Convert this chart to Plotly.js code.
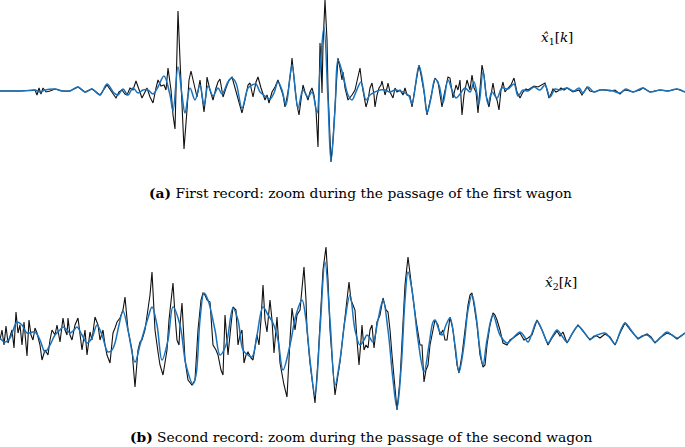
<!DOCTYPE html>
<html><head><meta charset="utf-8">
<script src="https://cdn.plot.ly/plotly-3.0.1.min.js"></script>
<style>html,body{margin:0;padding:0;background:#fff}#chart{width:685px;height:447px}</style>
</head><body><div id="chart"></div>
<script>
// Sample index k, amplitude (arbitrary units)
const topBlack = [[0,0],[20,0],[35,1],[37,-4],[39,3],[41,-3],[43,3],[46,-1],[50,0],[55,2],[62,0],[70,0],[78,4],[85,-1],[92,2],[100,-4],[107,6],[112,-1],[116,-7],[119,-1],[122,1],[125,-3],[127,-4],[130,3],[133,1],[136,10],[139,1],[142,-7],[145,-1],[147,3],[150,-6],[153,-12],[156,3],[158,11],[161,5],[164,6],[166,1],[168,23],[171,1],[173,-24],[175,-38],[177,51],[178,80],[180,31],[182,-19],[184,-58],[187,-19],[189,11],[191,20],[194,6],[197,-6],[200,11],[202,-4],[204,-21],[206,-4],[207,14],[210,1],[213,-9],[216,3],[218,9],[220,12],[222,-1],[223,-6],[226,3],[229,11],[232,14],[235,3],[238,-9],[242,-22],[245,-9],[248,6],[250,8],[253,-6],[256,9],[258,14],[261,3],[263,-4],[265,-9],[267,-4],[269,-12],[272,-1],[275,4],[278,11],[281,1],[283,-4],[285,-16],[288,-1],[291,21],[292,33],[295,3],[297,-14],[299,-24],[301,-9],[303,6],[305,-1],[308,-9],[310,-1],[312,3],[314,-4],[316,-19],[318,-56],[319,-9],[320,48],[321,31],[322,-2],[323,46],[325,91],[327,51],[328,1],[331,-71],[333,-49],[336,1],[338,33],[340,23],[342,11],[343,19],[345,3],[348,-9],[350,-7],[352,-4],[355,1],[357,9],[360,23],[362,6],[364,-4],[366,-16],[368,-9],[370,3],[372,8],[374,-4],[375,-16],[377,-4],[379,3],[381,6],[382,10],[384,1],[385,-4],[387,3],[388,8],[390,-1],[393,-7],[395,3],[397,-1],[400,1],[403,-4],[405,3],[407,-4],[410,-5],[412,-16],[415,3],[417,16],[419,26],[421,16],[424,-1],[427,-24],[429,-14],[431,-4],[433,6],[435,13],[438,9],[440,-4],[442,-16],[444,-4],[446,6],[448,14],[450,13],[453,-7],[456,6],[458,1],[460,11],[462,-24],[464,-4],[467,11],[470,1],[472,16],[474,3],[476,-1],[478,-22],[480,1],[482,26],[484,16],[486,-4],[489,-16],[491,-4],[493,8],[495,-4],[497,-9],[499,-19],[501,1],[503,9],[505,-1],[508,3],[511,6],[514,13],[517,-1],[520,-7],[523,-1],[526,2],[528,1],[531,3],[534,5],[538,4],[542,6],[545,8],[547,1],[549,-7],[551,-3],[553,2],[556,-1],[558,0],[561,3],[564,1],[567,3],[570,1],[573,-1],[576,0],[579,1],[582,-4],[585,1],[587,4],[590,0],[594,-1],[600,1],[605,1],[610,0],[615,1],[620,-3],[623,0],[626,1],[633,-1],[640,1],[643,3],[650,-1],[655,0],[660,1],[668,0],[677,2],[685,-1]];
const topBlue = [[0,0],[20,0],[30,0.5],[35,1],[40,-1],[45,1],[55,2],[62,0],[70,0],[78,4],[85,-1],[92,2],[100,-4],[107,7],[114,-2],[118,-4],[123,2],[128,-4],[133,3],[138,-2],[143,1],[148,1],[153,-3],[158,4],[164,15],[170,-4],[173,-20],[178,24],[182,-4],[185,-22],[190,3],[195,-9],[200,6],[204,-14],[208,5],[213,-5],[218,3],[222,-3],[228,9],[232,13],[236,8],[242,-17],[248,3],[252,6],[256,7],[260,-1],[265,-5],[270,-8],[274,-2],[278,9],[282,1],[286,-14],[292,26],[298,-17],[303,1],[308,-6],[312,-1],[317,-22],[320,21],[324,64],[328,-9],[331,-70],[335,-19],[338,31],[343,16],[348,-4],[352,-9],[356,-1],[361,9],[366,-9],[370,-4],[375,-1],[380,1],[385,1],[390,-1],[395,1],[400,0],[405,-2],[409,-5],[412,-13],[419,25],[424,1],[427,-22],[431,-7],[435,12],[439,6],[443,-12],[448,11],[452,1],[456,-7],[460,-3],[465,3],[470,-1],[474,9],[477,-3],[479,-13],[483,19],[488,-13],[492,-1],[497,-7],[502,3],[508,2],[514,7],[518,-5],[523,1],[528,0],[534,4],[540,1],[545,6],[550,-6],[555,2],[560,1],[567,3],[574,0],[579,3],[583,-2],[588,4],[594,-1],[600,1],[607,1],[613,0],[620,-2],[626,2],[633,-1],[643,3],[650,-1],[660,1],[668,0],[677,2],[685,-1]];
const botBlack = [[0,0],[2,10],[4,-5],[6,14],[8,-3],[10,5],[12,10],[14,-8],[16,28],[18,7],[20,15],[22,-5],[24,18],[27,-16],[29,20],[31,5],[33,0],[35,12],[37,7],[40,-5],[42,-20],[45,-10],[48,-15],[50,0],[52,10],[55,5],[57,15],[60,-2],[63,22],[65,10],[67,5],[68,22],[70,5],[72,0],[75,15],[78,22],[80,5],[82,-10],[85,10],[87,-15],[90,8],[92,0],[95,23],[98,15],[100,0],[103,10],[105,-5],[107,-15],[110,-23],[113,7],[115,12],[117,18],[120,22],[123,30],[125,43],[128,10],[130,0],[132,-10],[135,-47],[138,-10],[140,-2],[142,0],[145,10],[148,30],[150,45],[152,68],[155,10],[158,-12],[160,-25],[163,-35],[165,-20],[167,-10],[169,20],[171,40],[173,57],[175,25],[177,0],[179,-5],[180,15],[182,37],[185,-20],[188,-40],[190,-42],[192,-45],[195,-40],[198,10],[201,40],[203,47],[205,45],[207,40],[210,38],[212,10],[213,-5],[216,-10],[218,-15],[221,-30],[223,-35],[225,25],[228,-15],[231,15],[233,33],[236,30],[238,-5],[240,5],[242,10],[244,-23],[246,-15],[248,-12],[251,-18],[253,-20],[255,-5],[257,5],[259,-5],[261,20],[263,55],[265,20],[267,8],[270,40],[272,20],[274,-13],[277,23],[280,-23],[284,-45],[287,-57],[290,0],[292,32],[295,10],[297,25],[300,30],[302,50],[304,73],[306,40],[307,10],[310,-23],[313,-50],[315,-63],[318,-20],[320,20],[323,70],[326,93],[328,60],[330,10],[333,-35],[335,-55],[338,-35],[340,-22],[343,5],[346,30],[349,58],[351,40],[353,35],[355,30],[357,0],[359,-25],[361,0],[362,15],[364,-10],[366,-5],[368,-8],[370,10],[372,15],[374,-8],[377,18],[380,25],[383,42],[386,30],[388,28],[390,10],[392,-15],[395,-50],[397,-70],[400,-40],[403,20],[405,55],[408,83],[410,65],[412,50],[413,42],[416,20],[418,5],[420,-5],[422,-5],[424,-42],[426,-30],[428,-25],[430,-5],[432,5],[435,20],[438,15],[440,5],[443,10],[445,0],[447,0],[450,23],[453,10],[455,-10],[457,-25],[459,-33],[462,-15],[465,10],[468,35],[470,45],[472,47],[474,35],[477,15],[480,-15],[483,-27],[485,-25],[487,-5],[490,15],[493,27],[495,25],[497,20],[500,10],[503,-3],[507,-5],[510,0],[513,2],[516,4],[520,7],[524,0],[528,2],[532,5],[537,20],[542,10],[548,-5],[552,2],[555,6],[557,9],[560,4],[563,8],[567,-3],[572,6],[578,15],[584,7],[590,0],[594,4],[597,4],[600,2],[605,6],[610,3],[615,-5],[620,7],[625,17],[631,9],[638,1],[643,4],[647,6],[651,3],[655,-3],[661,3],[667,7],[672,5],[677,1],[681,4],[685,7]];
const botBlue = [[0,2],[5,-2],[10,2],[17,18],[22,15],[27,7],[35,8],[40,0],[45,-12],[50,-5],[55,5],[60,10],[63,13],[67,10],[70,7],[74,10],[77,13],[82,5],[87,-3],[92,2],[97,15],[102,5],[108,-12],[112,-10],[115,-3],[119,15],[123,29],[128,10],[135,-22],[140,-5],[148,22],[152,33],[157,15],[162,-20],[168,0],[173,33],[180,15],[186,-25],[193,-44],[196,-35],[200,20],[204,47],[208,40],[215,10],[220,-15],[226,-5],[233,32],[238,20],[243,-10],[248,-15],[252,-17],[257,5],[263,33],[268,25],[273,17],[278,0],[283,-30],[290,-5],[296,25],[302,40],[306,20],[310,-20],[315,-55],[320,10],[325,78],[330,20],[335,-45],[340,-20],[345,20],[350,45],[355,10],[360,-5],[364,0],[367,5],[370,2],[373,-2],[378,20],[383,40],[388,10],[393,-40],[397,-68],[401,-30],[405,40],[408,68],[412,50],[418,0],[424,-32],[429,-5],[433,18],[435,20],[439,10],[442,5],[446,15],[450,22],[455,-5],[459,-32],[464,-5],[468,30],[472,45],[476,25],[480,-10],[483,-25],[487,0],[493,25],[500,5],[507,-3],[513,2],[520,8],[524,4],[528,-2],[532,7],[537,19],[542,10],[548,-3],[552,3],[557,10],[562,4],[567,-2],[572,6],[578,14],[584,8],[590,1],[597,5],[605,7],[610,2],[615,-4],[620,8],[625,17],[631,10],[638,2],[642,4],[647,5],[651,2],[655,-2],[661,3],[667,8],[672,5],[677,2],[681,4],[685,7]];
const labels = ["<i>x̂</i><sub>1</sub>[<i>k</i>]", "<i>x̂</i><sub>2</sub>[<i>k</i>]"];
const captions = ["<b>(a)</b> First record: zoom during the passage of the first wagon",
                  "<b>(b)</b> Second record: zoom during the passage of the second wagon"];

const H = 447;
const BLACK = '#111111', BLUE = '#1a72bb';
function tr(data, color, width, axis, spline) {
  return {x: data.map(p => p[0]), y: data.map(p => p[1]), type: 'scatter', mode: 'lines',
    line: {color: color, width: width, shape: spline ? 'spline' : 'linear', smoothing: 1.0},
    xaxis: 'x', yaxis: axis, hoverinfo: 'skip', showlegend: false};
}
const traces = [
  tr(topBlack, BLACK, 1.1, 'y', false), tr(topBlue, BLUE, 1.5, 'y', true),
  tr(botBlack, BLACK, 1.1, 'y2', false), tr(botBlue, BLUE, 1.5, 'y2', true)
];
const hid = {visible: false, showgrid: false, zeroline: false, fixedrange: true};
const ann = (text, x, y, size) => ({text: text, xref: 'paper', yref: 'paper', x: x / 685, y: 1 - y / H,
  xanchor: 'center', yanchor: 'middle', showarrow: false, font: {size: size, family: 'DejaVu Serif', color: '#000'}});
const layout = {
  width: 685, height: 447, margin: {l: 0, r: 0, t: 0, b: 0},
  paper_bgcolor: '#fff', plot_bgcolor: 'rgba(0,0,0,0)',
  xaxis: Object.assign({range: [0, 685]}, hid),
  yaxis: Object.assign({range: [-79, 91], domain: [1 - 170 / H, 1]}, hid),
  yaxis2: Object.assign({range: [-80, 105], domain: [1 - 420 / H, 1 - 235 / H]}, hid),
  font: {family: 'DejaVu Serif', color: '#000'},
  annotations: [
    ann(labels[0], 557, 38, 13.5),
    ann(labels[1], 561, 283, 13.5),
    ann(captions[0], 361, 193, 13.8),
    ann(captions[1], 361, 437, 13.8)
  ]
};
Plotly.newPlot('chart', traces, layout, {staticPlot: true, displayModeBar: false});
</script></body></html>
